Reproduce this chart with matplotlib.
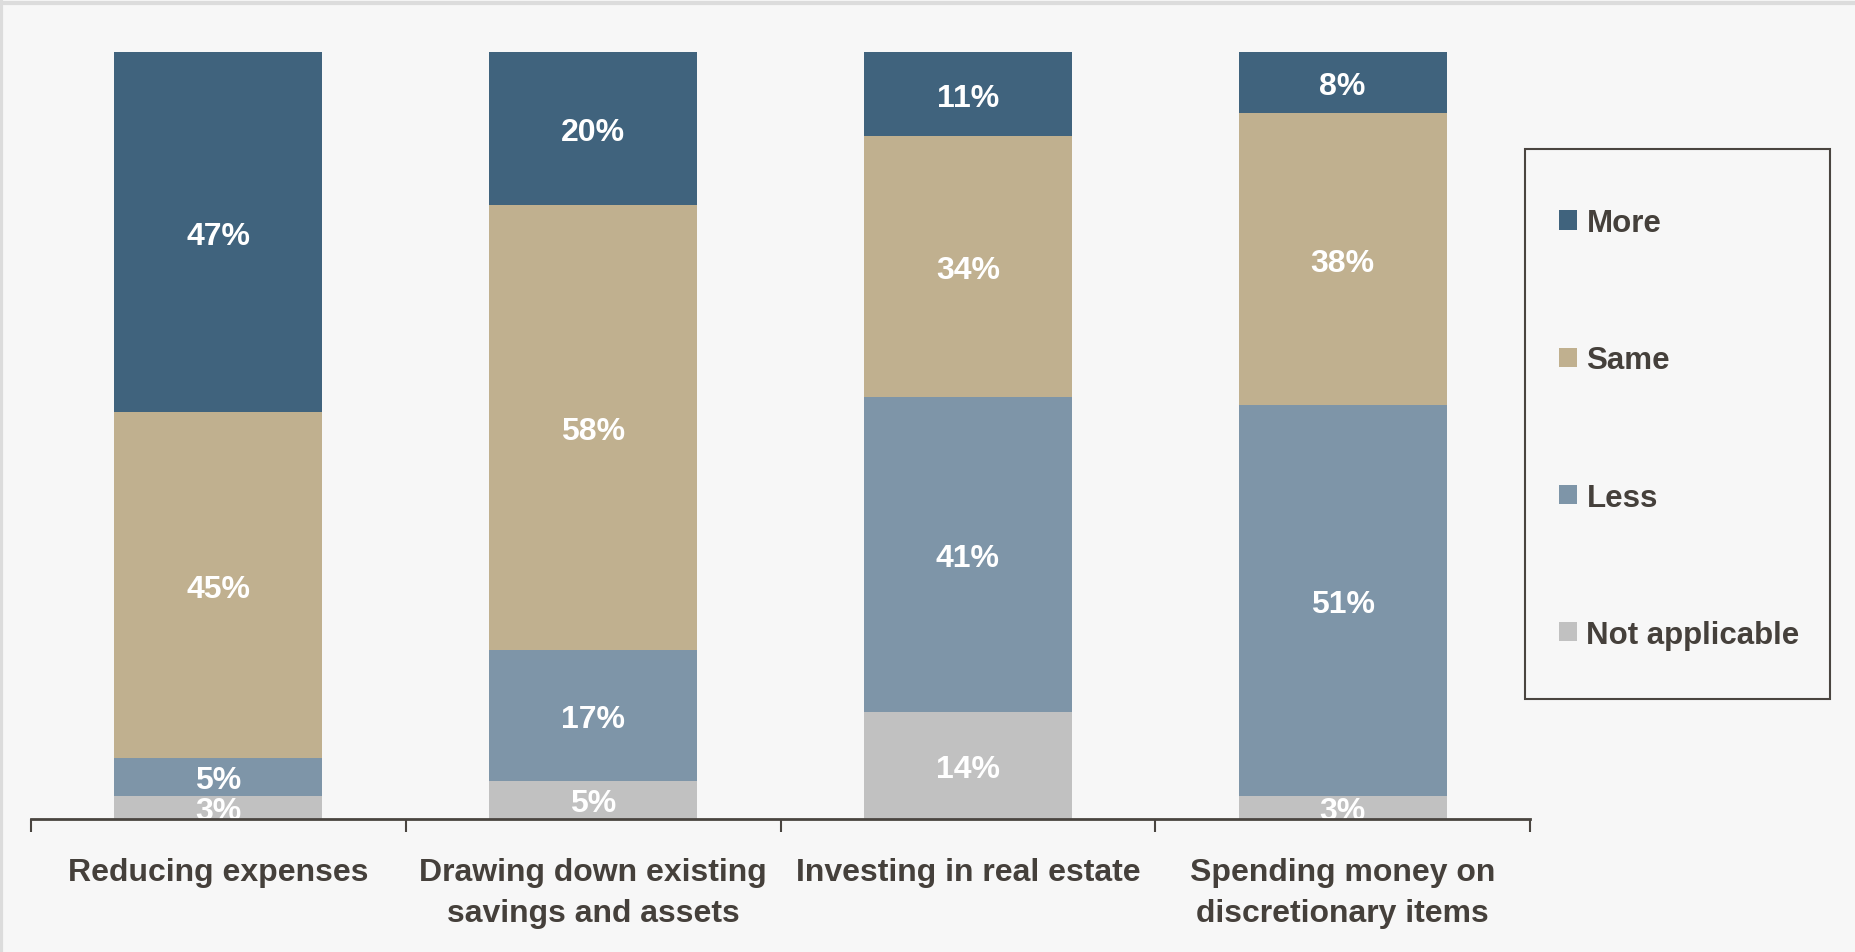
import matplotlib.pyplot as plt
import matplotlib.patches as mpatches
import numpy as np

# survey categories and answer shares (%)
categories = ["Reducing expenses", "Drawing down existing\nsavings and assets",
              "Investing in real estate", "Spending money on\ndiscretionary items"]
series = ["Not applicable", "Less", "Same", "More"]
not_applicable = [3, 5, 14, 3]
less = [5, 17, 41, 51]
same = [45, 58, 34, 38]
more = [47, 20, 11, 8]

colors = {"More": "#40637d", "Same": "#c0b08f", "Less": "#7e95a8", "Not applicable": "#c1c1c1"}
text_col = "#45403b"
font = ["Liberation Sans", "DejaVu Sans"]

fig = plt.figure(figsize=(18.55, 9.53), dpi=100, facecolor="#f7f7f7")
ax = fig.add_axes([31/1855, 133/953, 1499/1855, 767/953])
ax.set_facecolor("#f7f7f7")

x = np.arange(len(categories))
bottom = np.zeros(len(categories))
values = {"Not applicable": not_applicable, "Less": less, "Same": same, "More": more}
bars = {}
for name in series:
    v = np.array(values[name])
    bars[name] = ax.bar(x, v, 0.555, bottom=bottom, color=colors[name], label=name, zorder=2)
    for xi, b, val in zip(x, bottom, v):
        ax.text(xi, b + val / 2, f"{val}%", ha="center", va="center_baseline", color="white",
                fontsize=23, fontweight="bold", family=font, zorder=3, clip_on=True)
    bottom += v

ax.set_xlim(-0.5, 3.5)
ax.set_ylim(0, 100)
for s in ["top", "right", "left"]:
    ax.spines[s].set_visible(False)
ax.spines["bottom"].set_color("#4a4540")
ax.spines["bottom"].set_linewidth(2)
ax.spines["bottom"].set_zorder(4)
ax.set_yticks([])

# boundary ticks between groups, labels at group centres
ax.set_xticks(np.arange(-0.5, 4, 1))
ax.set_xticklabels([])
ax.tick_params(axis="x", which="major", length=9, width=1.5, color="#4a4540", direction="out")
ax.set_xticks(x, minor=True)
ax.set_xticklabels(categories, minor=True, fontsize=23, fontweight="bold",
                   color=text_col, family=font, linespacing=1.47)
ax.tick_params(axis="x", which="minor", length=0, pad=27.5)

# legend with its own frame
frame = mpatches.Rectangle((1525/1855, 1 - 700/953), 305/1855, 550/953, transform=fig.transFigure,
                           facecolor="none", edgecolor="#4a4540", linewidth=1.5)
fig.patches.append(frame)
handles = [bars[n] for n in ["More", "Same", "Less", "Not applicable"]]
leg = fig.legend(handles, ["More", "Same", "Less", "Not applicable"], loc="center left",
                 bbox_to_anchor=(1559/1855, 1 - 430/953), frameon=False,
                 prop={"family": font, "weight": "bold", "size": 22.5},
                 handlelength=0.58, handleheight=0.58, handletextpad=0.3,
                 labelspacing=3.43, borderpad=0, borderaxespad=0)
for t in leg.get_texts():
    t.set_color(text_col)

# light border along top and left edges
fig.add_artist(plt.Line2D([0, 1], [1 - 4/953, 1 - 4/953], transform=fig.transFigure,
                          color="#dcdcdc", linewidth=3))
fig.add_artist(plt.Line2D([1/1855, 1/1855], [0, 1], transform=fig.transFigure,
                          color="#dcdcdc", linewidth=3))

fig.savefig("out.png", dpi=100, facecolor=fig.get_facecolor())
